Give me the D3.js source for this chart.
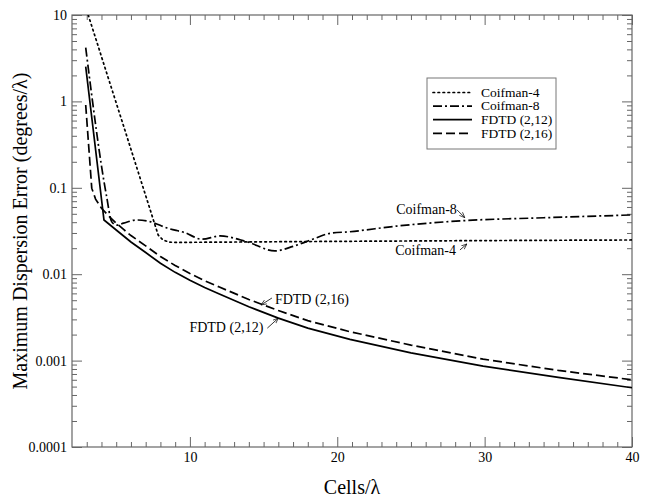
<!DOCTYPE html>
<html><head><meta charset="utf-8">
<script src="https://cdn.jsdelivr.net/npm/d3@7"></script>
<style>
body{margin:0;background:#fff;}
svg text{font-family:'Liberation Serif','DejaVu Serif',serif;}
</style></head>
<body><svg id="c" width="645" height="498" font-family="Liberation Serif, DejaVu Serif, serif"></svg>
<script>
// ---- data ----
const seriesNames = ["Coifman-4","Coifman-8","FDTD (2,12)","FDTD (2,16)"];
const coif4X = [3.1,4,5,6,7,7.85,8.17,8.6,9,10,15,20,30,40];
const coif4Y = [10,3.3,0.96,0.28,0.081,0.0284,0.0249,0.0235,0.0233,0.0234,0.0237,0.024,0.0245,0.0249];
const coif8X = [2.93,4.35,4.69,5.03,5.5,6.39,7.29,8.5,9.67,10.8,12.04,13.85,15.77,17,18.5,19.5,20.86,24,28.5,34,40];
const coif8Y = [4.19,0.079,0.0406,0.037,0.039,0.0424,0.0406,0.034,0.0302,0.0254,0.0277,0.0238,0.0186,0.021,0.026,0.0297,0.031,0.036,0.0416,0.045,0.0485];
const fd12X = [2.93,4.17,5,6,7,8,9,10,11,12,14,16,18,20.86,25,29.9,35,40];
const fd12Y = [2.52,0.0424,0.0325,0.0236,0.0178,0.0134,0.0105,0.0085,0.007,0.0059,0.0042,0.0031,0.00238,0.00176,0.00123,0.000865,0.00064,0.000485];
const fd16X = [2.93,3.34,3.6,4.0,4.5,5,5.5,6,7,8,9,10,11,12,14,16,18,20.86,25,29.9,35,40];
const fd16Y = [0.91,0.099,0.074,0.058,0.047,0.039,0.033,0.028,0.0213,0.016,0.0126,0.0102,0.0084,0.0071,0.0051,0.0038,0.0029,0.00216,0.00151,0.00104,0.00077,0.0006];
const xMajor = [10,20,30,40];
const xMinor = d3.range(3,40,1);
const yMajor = [0.0001,0.001,0.01,0.1,1,10];
const yMajorLabels = ["0.0001","0.001","0.01","0.1","1","10"];
// ---- chart ----
const FF = "Liberation Serif, DejaVu Serif, serif";
const svg = d3.select("#c");
const L=72,R=632,T=15,B=447;
const x = d3.scaleLinear().domain([2,40]).range([L,R]);
const y = d3.scaleLog().domain([1e-4,10]).range([B,T]);
const yMinor = [];
[-4,-3,-2,-1,0].forEach(e=>{for(let k=2;k<=9;k++) yMinor.push(k*Math.pow(10,e));});
const axCol="#666";
function styleAxis(g){g.attr("font-family",FF).attr("font-size",14);g.select(".domain").remove();g.selectAll(".tick line").attr("stroke",axCol);g.selectAll("text").attr("fill","#000");}
// bottom
svg.append("g").attr("transform",`translate(0,${B})`).call(d3.axisBottom(x).tickValues(xMinor.filter(v=>!xMajor.includes(v))).tickSize(-5).tickFormat("")).call(styleAxis);
svg.append("g").attr("transform",`translate(0,${B})`).call(d3.axisBottom(x).tickValues(xMajor).tickSize(-10).tickPadding(5).tickFormat(d3.format("d"))).call(styleAxis);
// top
svg.append("g").attr("transform",`translate(0,${T})`).call(d3.axisTop(x).tickValues(xMinor.filter(v=>!xMajor.includes(v))).tickSize(-5).tickFormat("")).call(styleAxis);
svg.append("g").attr("transform",`translate(0,${T})`).call(d3.axisTop(x).tickValues(xMajor).tickSize(-10).tickFormat("")).call(styleAxis);
// left
svg.append("g").attr("transform",`translate(${L},0)`).call(d3.axisLeft(y).tickValues(yMinor).tickSize(-5).tickFormat("")).call(styleAxis);
svg.append("g").attr("transform",`translate(${L},0)`).call(d3.axisLeft(y).tickValues(yMajor).tickSize(-10).tickPadding(5).tickFormat((d,i)=>yMajorLabels[i])).call(styleAxis);
// right
svg.append("g").attr("transform",`translate(${R},0)`).call(d3.axisRight(y).tickValues(yMinor).tickSize(-5).tickFormat("")).call(styleAxis);
svg.append("g").attr("transform",`translate(${R},0)`).call(d3.axisRight(y).tickValues(yMajor).tickSize(-10).tickFormat("")).call(styleAxis);
// frame
svg.append("rect").attr("x",L).attr("y",T).attr("width",R-L).attr("height",B-T).attr("fill","none").attr("stroke",axCol).attr("stroke-width",1.2);

// clip
svg.append("clipPath").attr("id","clp").append("rect").attr("x",L).attr("y",T).attr("width",R-L).attr("height",B-T);
const dashes = ["1.6,3.4","9,3,2,3",null,"9,4"];
const caps = ["round","butt","butt","butt"];
const allX=[coif4X,coif8X,fd12X,fd16X], allY=[coif4Y,coif8Y,fd12Y,fd16Y];
const curves=[d3.curveLinear,d3.curveMonotoneX,d3.curveLinear,d3.curveLinear];
const gL = svg.append("g").attr("clip-path","url(#clp)");
allX.forEach((xs,i)=>{
  const pts = xs.map((v,j)=>[v,allY[i][j]]);
  gL.append("path").datum(pts)
    .attr("d",d3.line().x(d=>x(d[0])).y(d=>y(d[1])).curve(curves[i]))
    .attr("fill","none").attr("stroke","#000").attr("stroke-width",1.7)
    .attr("stroke-dasharray",dashes[i]).attr("stroke-linecap",caps[i]);
});

// legend
const lg = svg.append("g").attr("font-family",FF);
lg.append("rect").attr("x",427).attr("y",78).attr("width",129).attr("height",71).attr("fill","#fff").attr("stroke","#777").attr("stroke-width",1);
seriesNames.forEach((n,i)=>{
  const yy = 92.5 + i*13.6;
  lg.append("line").attr("x1",433).attr("x2",472).attr("y1",yy).attr("y2",yy)
    .attr("stroke","#000").attr("stroke-width",1.7).attr("stroke-dasharray",dashes[i]).attr("stroke-linecap",caps[i]);
  lg.append("text").attr("x",481).attr("y",yy+4.3).attr("font-size",13.5).text(n);
});

// annotations
svg.append("defs").append("marker").attr("id","ah").attr("viewBox","0 0 10 10").attr("refX",10).attr("refY",5)
  .attr("markerWidth",7).attr("markerHeight",7).attr("orient","auto")
  .append("path").attr("d","M0,1 L10,5 L0,9").attr("fill","none").attr("stroke","#000").attr("stroke-width",1.2);
function arrow(x1,y1,x2,y2){svg.append("line").attr("x1",x1).attr("y1",y1).attr("x2",x2).attr("y2",y2).attr("stroke","#000").attr("stroke-width",0.8).attr("marker-end","url(#ah)");}
function label(t,xx,yy,anchor){svg.append("text").attr("x",xx).attr("y",yy).attr("text-anchor",anchor||"start").attr("font-family",FF).attr("font-size",14).text(t);}
label("Coifman-8", x(28.66)-8, y(0.045)-4, "end");
arrow(x(28.66)-8, y(0.045)-8, x(28.66), y(0.045));
label("Coifman-4", x(28.8)-11, y(0.0249)+15, "end");
arrow(x(28.8)-7, y(0.0249)+10, x(28.8), y(0.0249)+4);
label("FDTD (2,16)", x(14.82)+14, y(0.0044)-1, "start");
arrow(x(14.82)+11, y(0.0044)-7, x(14.82), y(0.0044));
label("FDTD (2,12)", x(16)-15, y(0.0031)+14, "end");
arrow(x(16)-11, y(0.0031)+10, x(16), y(0.0031));

// axis titles
svg.append("text").attr("x",(L+R)/2).attr("y",494).attr("text-anchor","middle").attr("font-family",FF).attr("font-size",20).text("Cells/λ");
svg.append("text").attr("transform",`translate(27,${(T+B)/2}) rotate(-90)`).attr("text-anchor","middle").attr("font-family",FF).attr("font-size",20).text("Maximum Dispersion Error (degrees/λ)");
</script></body></html>
